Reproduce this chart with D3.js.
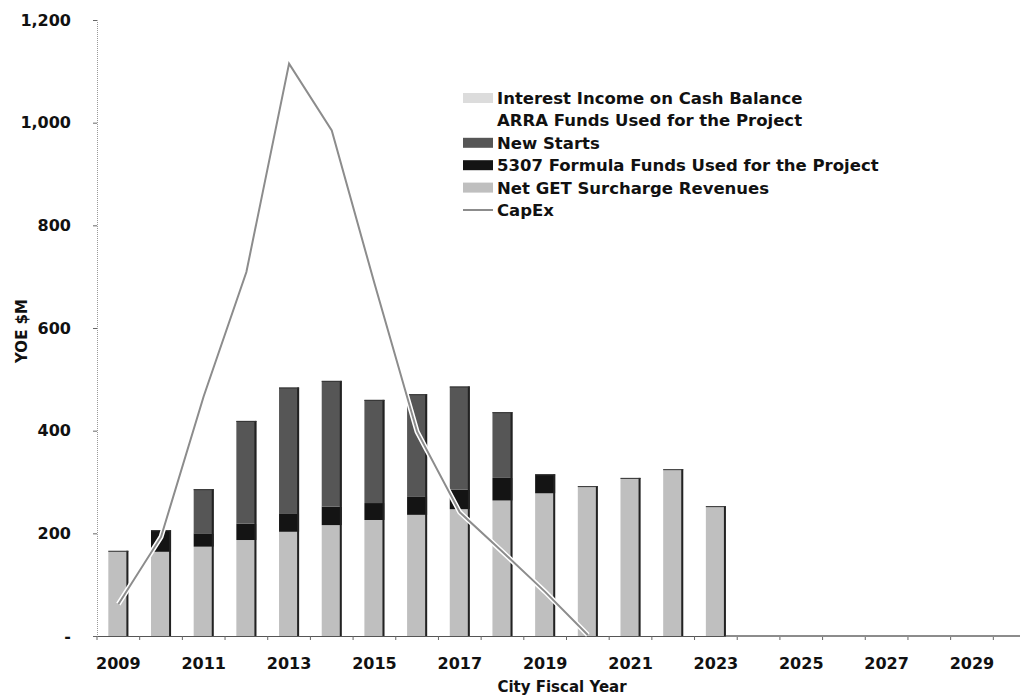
<!DOCTYPE html>
<html><head><meta charset="utf-8">
<script src="https://cdn.jsdelivr.net/npm/d3@7"></script>
<style>
html,body{margin:0;padding:0;background:#fff;}
text{font-family:"DejaVu Sans",Verdana,sans-serif;font-weight:bold;fill:#111;}
</style></head>
<body>
<svg id="chart" width="1020" height="698"></svg>
<script>
const years = d3.range(2009, 2031).map(String);
const netGET    = [166,164,174,187,203,216,226,236,247,264,278,292,308,325,253,0,0,0,0,0,0,0];
const formula5307 = [0,42,26,32,36,36,33,36,38,44,37,0,0,0,0,0,0,0,0,0,0,0];
const newStarts = [0,0,86,200,245,245,201,199,201,128,0,0,0,0,0,0,0,0,0,0,0,0];
const arra      = [0,0,0,0,0,0,0,0,0,0,0,0,0,0,0,0,0,0,0,0,0,0];
const interest  = [0,0,0,0,0,0,0,0,0,0,0,0,0,0,0,0,0,0,0,0,0,0];
const capex     = [62,193,467,709,1115,985,687,398,241,164,86,2,0,0,0,0,0,0,0,0,0,0];
const yTicks = [0,200,400,600,800,1000,1200];
const xTickLabels = ["2009","2011","2013","2015","2017","2019","2021","2023","2025","2027","2029"];
const seriesNames = ["Net GET Surcharge Revenues","5307 Formula Funds Used for the Project","New Starts","ARRA Funds Used for the Project","Interest Income on Cash Balance"];
const seriesKeys = ["get","f5307","ns","arra","int"];
const colors = {get:"#bfbfbf", f5307:"#141414", ns:"#565656", arra:"#ffffff", int:"#dcdcdc"};

const svg = d3.select("#chart");
const x = d3.scaleBand().domain(years).range([97, 1036]).paddingInner(0.53).paddingOuter(0.265);
const y = d3.scaleLinear().domain([0,1200]).range([636, 20]);

const table = years.map((yr,i)=>({year:yr, get:netGET[i], f5307:formula5307[i], ns:newStarts[i], arra:arra[i], int:interest[i]}));
const stacked = d3.stack().keys(seriesKeys)(table);

// CapEx line along zero (behind bars)
const line = d3.line().x((d,i)=>x(years[i])+x.bandwidth()/2).y(d=>y(d));

const gBars = svg.append("g");
stacked.forEach(s=>{
  gBars.selectAll(null).data(s.filter(d=>d[1]-d[0]>0)).enter().append("rect")
    .attr("x", d=>x(d.data.year))
    .attr("y", d=>y(d[1]))
    .attr("width", x.bandwidth())
    .attr("height", d=>y(d[0])-y(d[1]))
    .attr("fill", colors[s.key]);
});
const totals = table.map(d=>({year:d.year, total:d.get+d.f5307+d.ns+d.arra+d.int})).filter(d=>d.total>0);
gBars.selectAll(null).data(totals).enter().append("line")
  .attr("x1", d=>x(d.year)+x.bandwidth()-1).attr("x2", d=>x(d.year)+x.bandwidth()-1)
  .attr("y1", d=>y(d.total)).attr("y2", y(0))
  .attr("stroke","#222").attr("stroke-width",2);
gBars.selectAll(null).data(totals).enter().append("line")
  .attr("x1", d=>x(d.year)).attr("x2", d=>x(d.year)+x.bandwidth())
  .attr("y1", d=>y(d.total)+0.5).attr("y2", d=>y(d.total)+0.5)
  .attr("stroke","#333").attr("stroke-width",1);

// axes
const yAxis = d3.axisLeft(y).tickValues(yTicks).tickSize(4).tickPadding(22)
  .tickFormat(d=> d===0 ? "-" : d3.format(",")(d));
const gy = svg.append("g").attr("transform","translate(97,0)").call(yAxis);
gy.select(".domain").attr("stroke","#999").attr("stroke-dasharray","1,1");
gy.selectAll(".tick line").attr("stroke","#666");
gy.selectAll(".tick text").style("font-size","16px").style("font-family","DejaVu Sans").style("font-weight","bold").attr("fill","#111");

const xAxis = d3.axisBottom(x).tickValues(xTickLabels).tickSize(0).tickPadding(22);
const gx = svg.append("g").attr("transform","translate(0,636)").call(xAxis);
gx.select(".domain").attr("stroke","#555");
gx.selectAll(".tick text").style("font-size","16px").style("font-family","DejaVu Sans").style("font-weight","bold").attr("fill","#111");
svg.append("g").selectAll(null).data(years).enter().append("line")
  .attr("x1", d=>x(d)-x.step()*x.paddingInner()/2).attr("x2", d=>x(d)-x.step()*x.paddingInner()/2)
  .attr("y1",636).attr("y2",640).attr("stroke","#666");

// CapEx line: rising/falling part on top with white halo
const lastIdx = 12;
const capexFront = capex.slice(0, lastIdx);
svg.append("path").datum(capexFront).attr("d", line).attr("fill","none").attr("stroke","#fff").attr("stroke-width",5);
svg.append("path").datum(capexFront).attr("d", line).attr("fill","none").attr("stroke","#8c8c8c").attr("stroke-width",2);
// zero segment beyond the last bar, to the edge
svg.append("line").attr("x1", x(years[14])+x.bandwidth()).attr("x2",1020).attr("y1",y(0)).attr("y2",y(0)).attr("stroke","#8c8c8c").attr("stroke-width",2);

// axis titles
svg.append("text").attr("x",562).attr("y",692).attr("text-anchor","middle").style("font-size","15px").text("City Fiscal Year");
svg.append("text").attr("transform","translate(27,331) rotate(-90)").attr("text-anchor","middle").style("font-size","15px").text("YOE $M");

// legend
const legendItems = [
  {name:seriesNames[4], key:"int", type:"rect"},
  {name:seriesNames[3], key:"arra", type:"rect"},
  {name:seriesNames[2], key:"ns", type:"rect"},
  {name:seriesNames[1], key:"f5307", type:"rect"},
  {name:seriesNames[0], key:"get", type:"rect"},
  {name:"CapEx", key:"capex", type:"line"}
];
const lg = svg.append("g");
legendItems.forEach((it,i)=>{
  const cy = 98 + i*22.4;
  if(it.type==="rect"){
    lg.append("rect").attr("x",463).attr("y",cy-5).attr("width",30).attr("height",10).attr("fill",colors[it.key]);
  } else {
    lg.append("line").attr("x1",463).attr("x2",493).attr("y1",cy).attr("y2",cy).attr("stroke","#8c8c8c").attr("stroke-width",2);
  }
  lg.append("text").attr("x",497).attr("y",cy+6).style("font-size","16.5px").text(it.name);
});
</script>
</body></html>
